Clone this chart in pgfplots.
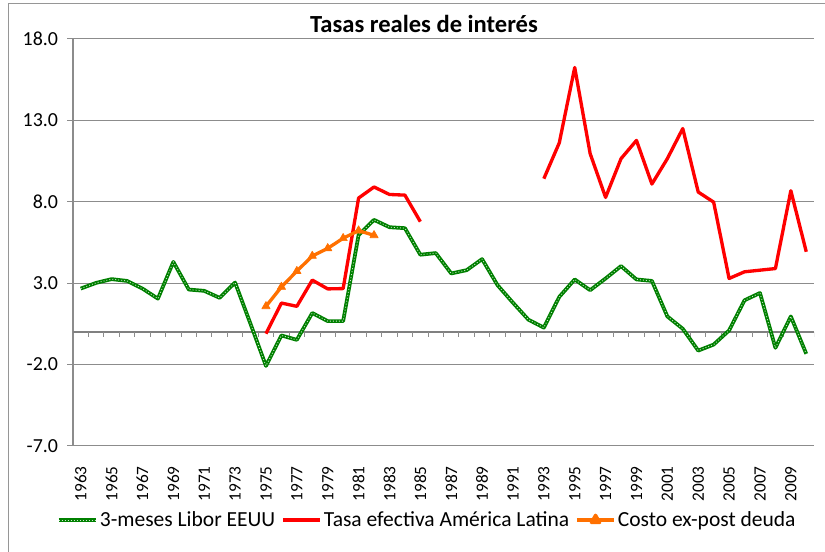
\documentclass[border=0pt]{standalone}
\usepackage{fontspec}
\setmainfont{Carlito}
\usepackage{pgfplots}
\usepackage{pgfplotstable}
\pgfplotsset{compat=1.18}
\definecolor{libgreen}{RGB}{0,128,0}
\definecolor{libdot}{RGB}{205,232,205}
\definecolor{ared}{RGB}{255,0,0}
\definecolor{aorange}{RGB}{255,112,0}
\definecolor{gridgray}{RGB}{140,140,140}
\definecolor{zerogray}{RGB}{128,128,128}
\definecolor{framegray}{RGB}{150,150,150}

\pgfplotstableread{
year libor
1963 2.67
1964 3.02
1965 3.25
1966 3.14
1967 2.67
1968 2.05
1969 4.31
1970 2.61
1971 2.53
1972 2.10
1973 3.04
1974 0.50
1975 -2.08
1976 -0.21
1977 -0.48
1978 1.17
1979 0.67
1980 0.67
1981 5.96
1982 6.89
1983 6.44
1984 6.38
1985 4.75
1986 4.85
1987 3.60
1988 3.80
1989 4.48
1990 2.88
1991 1.80
1992 0.76
1993 0.27
1994 2.16
1995 3.23
1996 2.57
1997 3.29
1998 4.05
1999 3.23
2000 3.14
2001 0.96
2002 0.20
2003 -1.14
2004 -0.77
2005 0.10
2006 1.95
2007 2.40
2008 -0.97
2009 0.96
2010 -1.34
}\libortable

\pgfplotstableread{
year tasa
1975 -0.10
1976 1.78
1977 1.58
1978 3.19
1979 2.65
1980 2.67
1981 8.23
1982 8.91
1983 8.45
1984 8.41
1985 6.78
1986 nan
1987 nan
1988 nan
1989 nan
1990 nan
1991 nan
1992 nan
1993 9.42
1994 11.62
1995 16.25
1996 10.96
1997 8.27
1998 10.65
1999 11.77
2000 9.09
2001 10.65
2002 12.50
2003 8.60
2004 7.98
2005 3.29
2006 3.70
2007 3.80
2008 3.90
2009 8.68
2010 4.93
}\tasatable

\pgfplotstableread{
year costo
1975 1.58
1976 2.77
1977 3.74
1978 4.67
1979 5.14
1980 5.76
1981 6.23
1982 5.94
}\costotable

\begin{document}
\begin{tikzpicture}
\useasboundingbox (0,0) rectangle (618.75bp,414bp);
\draw[framegray, line width=0.75bp] (6bp,0) -- (6bp,411bp) -- (618.75bp,411bp);
\begin{axis}[
  at={(54.75bp,79.5bp)}, anchor=south west,
  scale only axis, width=555.75bp, height=305.25bp,
  xmin=1962.5, xmax=2010.5, ymin=-7, ymax=18,
  axis lines=left, axis line style={-},
  y axis line style={draw=gridgray, line width=0.9bp},
  x axis line style={draw=gridgray, line width=0.75bp},
  ytick={-7,-2,3,8,13,18},
  ymajorgrids, major grid style={draw=gridgray, line width=0.75bp},
  xtick={1963,1965,...,2009},
  x tick style={draw=none},
  y tick style={draw=gridgray, line width=0.75bp},
  tick align=outside, major tick length=4.5bp,
  extra y ticks={0}, extra y tick labels={},
  extra y tick style={major tick length=0pt, major grid style={draw=zerogray, line width=1.6bp}},
  /pgf/number format/assume math mode=true,
  yticklabel style={font=\fontsize{15}{17}\selectfont, inner sep=0pt, xshift=-6.5bp,
     /pgf/number format/fixed, /pgf/number format/fixed zerofill, /pgf/number format/precision=1},
  xticklabel style={font=\fontsize{13}{15}\selectfont, rotate=90, anchor=east, inner sep=0pt, xshift=-10.5bp,
     /pgf/number format/1000 sep={}},
  title={Tasas reales de interés},
  title style={font=\bfseries\fontsize{18.5}{22}\selectfont, at={(0.4737,1)}, anchor=base, yshift=-0.75bp},
  unbounded coords=jump,
  legend columns=3,
  legend style={at={(0.478,-0.182)}, anchor=center, draw=none, fill=none,
     font=\fontsize{16.2}{19}\selectfont, inner sep=0pt,
     /tikz/every even column/.append style={column sep=3bp},
     nodes={inner sep=1.5bp}},
]
\pgfplotsinvokeforeach{1963.5,1964.5,...,2010.5}{
  \draw[gridgray, line width=0.75bp] (axis cs:#1,0) -- ([yshift=-3.75bp]axis cs:#1,0);
}
\addplot[libgreen, line width=2.8bp, line join=round,
  legend image code/.code={
    \draw[libgreen, line width=2.8bp] (0bp,0bp) -- (28bp,0bp);
    \draw[libdot, line width=0.6bp, dash pattern=on 0.75bp off 1.5bp] (0bp,0bp) -- (28bp,0bp);}]
  table[x=year, y=libor] {\libortable};
\addlegendentry{3-meses Libor EEUU}
\addplot[libdot, line width=0.6bp, dash pattern=on 0.75bp off 1.5bp, forget plot]
  table[x=year, y=libor] {\libortable};
\addplot[ared, line width=2.5bp, line join=round,
  legend image code/.code={
    \draw[ared, line width=2.5bp] (0bp,0bp) -- (28bp,0bp);}]
  table[x=year, y=tasa] {\tasatable};
\addlegendentry{Tasa efectiva América Latina}
\addplot[aorange, line width=2.5bp, line join=round, mark=triangle*, mark size=3.6bp,
  mark options={solid, fill=aorange, line width=0.5bp},
  legend image code/.code={
    \draw[aorange, line width=2.5bp] (0bp,0bp) -- (28bp,0bp);
    \fill[aorange] (14bp,3.6bp) -- (10.9bp,-1.8bp) -- (17.1bp,-1.8bp) -- cycle;}]
  table[x=year, y=costo] {\costotable};
\addlegendentry{Costo ex-post deuda}
\end{axis}
\end{tikzpicture}
\end{document}
